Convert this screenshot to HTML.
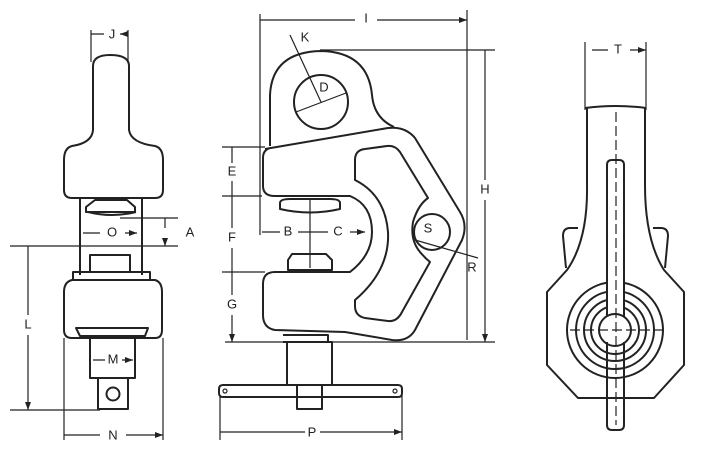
<!DOCTYPE html>
<html><head><meta charset="utf-8"><style>
html,body{margin:0;padding:0;background:#fff;}
svg{display:block;}
text{font-family:"Liberation Sans",sans-serif;font-size:13px;fill:#222;text-anchor:middle;dominant-baseline:middle;}
</style></head><body>
<svg width="704" height="457" viewBox="0 0 704 457" xmlns="http://www.w3.org/2000/svg">
<defs><marker id="a" viewBox="0 0 8 6" refX="8" refY="3" markerWidth="7" markerHeight="5" orient="auto-start-reverse"><path d="M0,0 L8,3 L0,6z" fill="#222"/></marker></defs>
<g fill="none" stroke="#222" stroke-width="2" stroke-linejoin="round">
<!-- LEFT VIEW -->
<path d="M93,130 L93,66 Q93,55 110,55 Q129,55 129,66 L129,130 Q131,143 155,146 Q163,148 163,160 L163,190 Q163,198 155,198 L72,198 Q64,198 64,190 L64,160 Q64,148 72,146 Q92,143 93,130 Z"/>
<path d="M80,198 L80,275 M142,198 L142,275"/>
<path d="M95,200 L127,200 L135,207 L135,212 L86,212 L86,207 Z"/>
<path d="M88,212 Q112,218 136,212"/>
<rect x="90" y="255" width="40" height="17"/>
<path d="M73,272 L150,272 L150,280 L73,280 Z"/>
<path d="M72,280 L155,280 Q162,282 162,292 L162,330 Q162,338 155,338 L72,338 Q64,338 64,330 L64,292 Q64,282 72,280 Z"/>
<path d="M76,328 L148,328 L145,336 L80,336 Z"/>
<rect x="90" y="338" width="45" height="40"/>
<rect x="98" y="378" width="30" height="31"/>
<circle cx="113" cy="394" r="6.5"/>
<!-- MIDDLE VIEW -->
<path d="M270,146 L270,95 Q272,52 321,51 Q368,52 372,95 Q374,118 394,127"/>
<circle cx="321" cy="102" r="27"/>
<path d="M265,149 L388,128 Q405,126 415,138 L460,212 Q468,225 462,240 L415,330 Q408,342 392,340 L345,332 L275,330 Q263,328 263,315 L263,284 Q263,272 275,272 L350,272 Q372,255 372,232 Q372,205 350,196 L275,196 Q263,196 263,186 L263,158 Q263,150 270,148"/>
<path d="M355,160 Q355,150 365,149 L387,146 Q395,145 400,152 L428,198 Q418,205 413,222 Q410,240 420,252 Q425,258 430,262 L402,312 Q397,322 388,321 L365,318 Q355,316 355,306 L355,300 Q390,270 388,232 Q385,195 355,180 Z"/>
<circle cx="432" cy="232" r="18"/>
<path d="M280,203 Q280,199 290,199 L330,199 Q340,199 340,203 L340,209 Q310,216 280,209 Z"/>
<path d="M292,254 L326,254 L332,260 L332,270 L288,270 L288,260 Z"/>
<path d="M287,342 L332,342 L332,385 L287,385 Z"/>
<path d="M283,335 L328,335 L328,342 L283,342"/>
<path d="M223,385 L398,385 Q402,385 402,389 L402,393 Q402,397 398,397 L223,397 Q219,397 219,393 L219,389 Q219,385 223,385 Z"/>
<path d="M297,385 L297,409 L322,409 L322,385"/>
<!-- RIGHT VIEW -->
<path d="M585,108 Q616,104 646,108"/>
<path d="M587,108 L587,185 Q588,240 567,270 L547,292 L547,365 L578,398 L654,398 L684,365 L684,292 L664,270 Q645,240 645,185 L645,108"/>
<path d="M566,268 L563,236 Q563,228 570,228 L578,228"/>
<path d="M665,268 L668,236 Q668,228 661,228 L653,228"/>
<circle cx="615" cy="330" r="48"/>
<circle cx="615" cy="330" r="39"/>
<circle cx="615" cy="330" r="31"/>
<circle cx="615" cy="330" r="24"/>
<path d="M607,165 Q607,160 612,160 L619,160 Q624,160 624,165 L624,318 L607,318 Z" fill="#fff"/>
<circle cx="615" cy="330" r="16" fill="#fff"/>
<path d="M607,342 L607,425 Q607,430 612,430 L619,430 Q624,430 624,425 L624,342"/>
</g>
<g fill="none" stroke="#222" stroke-width="1.2">
<path d="M91,30 L91,62 M128,30 L128,62"/>
<path d="M91,34 L104,34 M128,34 L120,34" marker-end="url(#a)"/>
<path d="M120,218 L178,218 M10,246 L178,246 M10,410 L100,410"/>
<path d="M165,228 L165,218 M165,238 L165,246" marker-end="url(#a)"/>
<path d="M100,233 L83,233 M125,233 L137,233" marker-end="url(#a)"/>
<path d="M28,315 L28,246 M28,335 L28,410" marker-end="url(#a)"/>
<path d="M105,360 L93,360 M122,360 L133,360" marker-end="url(#a)"/>
<path d="M64,338 L64,440 M163,338 L163,440"/>
<path d="M100,435 L64,435 M126,435 L163,435" marker-end="url(#a)"/>
<path d="M260,14 L260,235 M467,10 L467,340"/>
<path d="M355,20 L260,20 M377,20 L467,20" marker-end="url(#a)"/>
<path d="M320,50 L495,50 M225,342 L495,342"/>
<path d="M485,180 L485,50 M485,200 L485,342" marker-end="url(#a)"/>
<path d="M222,147 L265,147 M222,196 L262,196 M222,272 L265,272"/>
<path d="M232,163 L232,147 M232,181 L232,196 M232,228 L232,196 M232,248 L232,272 M232,295 L232,272 M232,315 L232,342" marker-end="url(#a)"/>
<path d="M280,232 L262,232 M298,232 L310,232 M328,232 L310,232 M350,232 L365,232" marker-end="url(#a)"/>
<path d="M290,35 L321,102 M296,112 L346,93"/>
<path d="M415,240 L478,258"/>
<path d="M310,198 L310,268"/>
<path d="M220,395 L220,440 M402,395 L402,440"/>
<path d="M305,432 L220,432 M320,432 L402,432" marker-end="url(#a)"/>
<path d="M585,42 L585,110 M646,42 L646,110"/>
<path d="M608,50 L592,50 M630,50 L646,50" marker-end="url(#a)"/>
<path d="M616,112 L616,425 M570,330 L662,330" stroke-dasharray="10,4"/>
</g>
<g fill="#fff" stroke="#222" stroke-width="1.2"><circle cx="225" cy="391" r="2"/><circle cx="395" cy="391" r="2"/></g>
<g>
<text x="112" y="35">J</text><text x="190" y="233">A</text><text x="112" y="233">O</text>
<text x="28" y="325">L</text><text x="113" y="360">M</text><text x="113" y="436">N</text>
<text x="366" y="19">I</text><text x="305" y="38">K</text><text x="324" y="88">D</text>
<text x="485" y="190">H</text><text x="232" y="172">E</text><text x="232" y="238">F</text><text x="232" y="305">G</text>
<text x="288" y="232">B</text><text x="338" y="232">C</text><text x="428" y="229">S</text><text x="472" y="268">R</text>
<text x="312" y="433">P</text><text x="618" y="50">T</text>
</g>
</svg>
</body></html>
